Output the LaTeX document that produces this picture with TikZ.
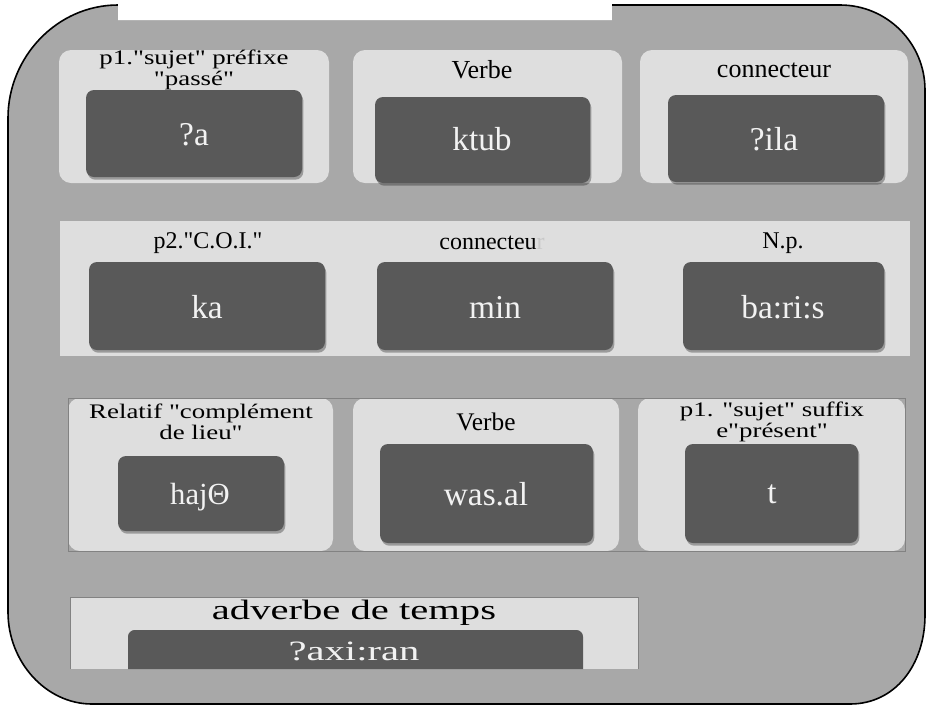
\documentclass[tikz,border=0pt]{standalone}
\usepackage{fontspec}
\setmainfont{Liberation Serif}
\newfontfamily\plainfont{Liberation Serif}
\newfontfamily\widefont[FakeStretch=1.3]{Liberation Serif}
\newfontfamily\xwidefont[FakeStretch=1.45]{Liberation Serif}
\usetikzlibrary{shadows}

\definecolor{framegray}{RGB}{168,168,168}
\definecolor{panelgray}{RGB}{222,222,222}
\definecolor{boxgray}{RGB}{89,89,89}
\definecolor{boxtext}{RGB}{242,242,242}
\definecolor{rulegray}{RGB}{130,130,130}

\tikzset{every picture/.style={line width=0.75pt}}
\tikzset{
  panel/.style={fill=panelgray, rounded corners=9pt},
  keybox/.style={fill=boxgray, rounded corners=6pt,
    drop shadow={shadow xshift=1pt, shadow yshift=-2pt, opacity=0.3, fill=black}},
  lbl/.style={text=black, align=center, inner sep=0pt, font=\plainfont\fontsize{#1}{20}\selectfont},
  lbl/.default=18,
  widelbl/.style={text=black, align=center, inner sep=0pt, font=\widefont\fontsize{15.5}{16}\selectfont},
  keytxt/.style={text=boxtext, inner sep=0pt, font=\plainfont\fontsize{#1}{26}\selectfont},
  keytxt/.default=25,
}

\begin{document}
\begin{tikzpicture}[x=0.75pt,y=0.75pt,yscale=-1]
	\useasboundingbox (0,0) rectangle (933,708);

	%Shape: Frame
	\draw [fill=framegray, line width=1.2pt] (8,118) .. controls (8,57) and (57,5) .. (118,5) -- (840,5) .. controls (887,5) and (925,43) .. (925,90) -- (925,615) .. controls (925,665) and (895,704) .. (850,704) -- (92,704) .. controls (46,704) and (8,662) .. (8,612) -- cycle ;
	%Shape: Title box
	\fill [white] (118,0) rectangle (612,20) ;
	\draw [rulegray!60, line width=0.6pt] (118,20.5) -- (612,20.5) ;

	%Row 1
	\fill [panel] (59,50) rectangle (329,183) ;
	\fill [panel] (353,50) rectangle (622,183) ;
	\fill [panel] (640,50) rectangle (908,183) ;
	\fill [keybox] (86,90) rectangle (302,177) ;
	\fill [keybox] (375,97) rectangle (590,183) ;
	\fill [keybox] (668,95) rectangle (884,182) ;

	%Row 2
	\fill [panelgray] (60,221) rectangle (910,356) ;
	\fill [keybox] (89,262) rectangle (325,350) ;
	\fill [keybox] (377,262) rectangle (613,350) ;
	\fill [keybox] (683,262) rectangle (884,350) ;

	%Row 3
	\fill [panel] (68,398) rectangle (333,551) ;
	\fill [panel] (353,398) rectangle (619,551) ;
	\fill [panel] (638,398) rectangle (905,551) ;
	\draw [rulegray, line width=0.5pt] (68,398) rectangle (905,551) ;
	\fill [keybox] (118,456) rectangle (284,531) ;
	\fill [keybox] (380,444) rectangle (593,543) ;
	\fill [keybox] (685,444) rectangle (858,543) ;

	%Row 4
	\fill [panelgray] (70,597) rectangle (638,669) ;
	\draw [rulegray, line width=0.5pt] (70,669) -- (70,597) -- (638,597) -- (638,669) ;
	\fill [boxgray] (128,669) [rounded corners=5pt] -- (128,630) -- (583,630) [sharp corners] -- (583,669) -- cycle ;

	% Text Node
	\node [widelbl] (lblprefixe) at (194,70) {p1."sujet" préfixe\\"passé"};
	% Text Node
	\node [lbl=19.5] (lblverbeA) at (482,70) {Verbe};
	% Text Node
	\node [lbl=19.5] (lblconnA) at (774,70) {connecteur};
	% Text Node
	\node [keytxt] (txtA) at (194,135) {?a};
	% Text Node
	\node [keytxt] (txtktub) at (482,139) {ktub};
	% Text Node
	\node [keytxt] (txtila) at (774,139) {?ila};

	% Text Node
	\node [lbl] (lblcoi) at (208,243) {p2."C.O.I."};
	% Text Node
	\node [lbl] (lblconnB) at (492,243) {connecteu{\color{panelgray!90!black}r}};
	% Text Node
	\node [lbl] (lblnp) at (783,243) {N.p.};
	% Text Node
	\node [keytxt] (txtka) at (207,307) {ka};
	% Text Node
	\node [keytxt] (txtmin) at (495,307) {min};
	% Text Node
	\node [keytxt] (txtbaris) at (783,307) {ba:ri:s};

	% Text Node
	\node [widelbl] (lblrelatif) at (201,422) {Relatif "complément\\de lieu"};
	% Text Node
	\node [lbl=19] (lblverbeB) at (486,422) {Verbe};
	% Text Node
	\node [widelbl] (lblsuffixe) at (772,422) {p1. "sujet" suffix\\e"présent"};
	% Text Node
	\node [keytxt=23] (txthaj) at (200,497) {hajΘ};
	% Text Node
	\node [keytxt] (txtwasal) at (486,494) {was.al};
	% Text Node
	\node [keytxt] (txtt) at (772,494) {t};

	% Text Node
	\node [text=black, inner sep=0pt, font=\xwidefont\fontsize{21}{22}\selectfont] (lbladverbe) at (354,613) {adverbe de temps};
	% Text Node
	\node [text=boxtext, inner sep=0pt, font=\xwidefont\fontsize{21}{22}\selectfont] (txtaxiran) at (354,651) {?axi:ran};

\end{tikzpicture}
\end{document}
